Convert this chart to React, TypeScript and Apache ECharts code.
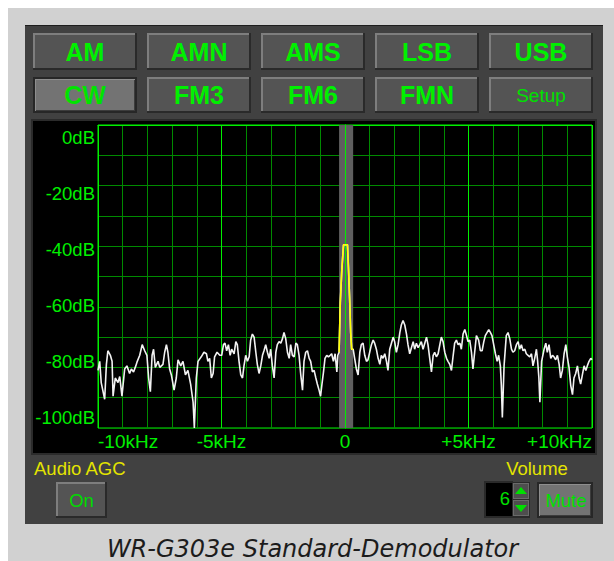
import React, { useEffect, useRef } from 'react';
import * as echarts from 'echarts';

const modeRow1 = ['AM', 'AMN', 'AMS', 'LSB', 'USB'];
const modeRow2 = ['CW', 'FM3', 'FM6', 'FMN', 'Setup'];
const selectedMode = 'CW';
const passbandKHz = [-0.24, 0.33];
const volumeValue = '6';
const captionText = 'WR-G303e Standard-Demodulator';

const freqKHz = [
  -10.0, -9.93, -9.87, -9.73, -9.66, -9.6, -9.5, -9.43, -9.39, -9.3, -9.19, -9.12, -9.03, -8.92, -8.83,
  -8.72, -8.65, -8.56, -8.47, -8.41, -8.31, -8.21, -8.11, -8.02, -7.95, -7.88, -7.81, -7.75, -7.68, -7.57,
  -7.5, -7.37, -7.3, -7.23, -7.17, -7.1, -7.03, -6.92, -6.83, -6.76, -6.65, -6.56, -6.46, -6.36, -6.25,
  -6.15, -6.1, -6.02, -5.95, -5.82, -5.71, -5.61, -5.55, -5.48, -5.41, -5.34, -5.28, -5.18, -5.07,
  -4.99, -4.92, -4.86, -4.79, -4.72, -4.65, -4.59, -4.49, -4.42, -4.36, -4.29, -4.22, -4.15, -4.09, -4.02,
  -3.95, -3.88, -3.82, -3.75, -3.68, -3.61, -3.55, -3.48, -3.41, -3.34, -3.28, -3.21, -3.14, -3.07, -3.01,
  -2.94, -2.87, -2.8, -2.74, -2.67, -2.6, -2.53, -2.47, -2.4, -2.33, -2.26, -2.2, -2.13, -2.06, -1.99,
  -1.93, -1.86, -1.79, -1.72, -1.66, -1.59, -1.52, -1.45, -1.39, -1.32, -1.25, -1.18, -1.12, -1.05, -0.99,
  -0.94, -0.87, -0.81, -0.74, -0.67, -0.6, -0.54, -0.47, -0.4, -0.33, -0.29,
  -0.24, -0.22, -0.19, -0.13, -0.06, 0.1, 0.14, 0.19, 0.23, 0.27, 0.33,
  0.39, 0.46, 0.53, 0.6, 0.66, 0.73, 0.8, 0.87, 0.93, 1.0, 1.07, 1.14, 1.2, 1.27, 1.34,
  1.41, 1.47, 1.54, 1.61, 1.68, 1.74, 1.81, 1.88, 1.95, 2.01, 2.08, 2.15, 2.22, 2.28, 2.35,
  2.42, 2.49, 2.55, 2.62, 2.69, 2.76, 2.82, 2.89, 2.96, 3.03, 3.09, 3.16, 3.23, 3.3, 3.36,
  3.43, 3.5, 3.57, 3.63, 3.7, 3.77, 3.84, 3.9, 3.97, 4.04, 4.11, 4.17, 4.24, 4.31, 4.38,
  4.44, 4.51, 4.58, 4.65, 4.71, 4.78, 4.85, 4.92, 4.98, 5.05,
  5.12, 5.18, 5.25, 5.32, 5.41, 5.48, 5.55, 5.62, 5.68, 5.75, 5.82, 5.89, 5.95, 6.02, 6.09,
  6.16, 6.22, 6.29, 6.33, 6.37, 6.44, 6.53, 6.6, 6.67, 6.74, 6.8, 6.87, 6.94, 7.01, 7.07,
  7.14, 7.21, 7.28, 7.34, 7.41, 7.48, 7.55, 7.61, 7.68, 7.75, 7.8, 7.85, 7.89, 7.96, 8.06,
  8.13, 8.19, 8.26, 8.33, 8.4, 8.46, 8.53, 8.6, 8.67, 8.73, 8.8, 8.87, 8.94, 9.0, 9.07,
  9.14, 9.21, 9.27, 9.34, 9.41, 9.48, 9.54, 9.61, 9.68, 9.75, 9.81, 9.88, 9.95, 10.0,
];

const levelDb = [
  -81, -78, -85, -90.5, -79, -74.5, -76, -78, -89.5, -83.5, -85, -83, -89.5, -80.5, -79.5,
  -82, -80.5, -81.5, -79.5, -78, -76, -72.5, -74.5, -76, -83.5, -88, -76, -74, -80, -78,
  -80, -79, -75, -72.5, -75, -80.5, -82.5, -87.5, -83.5, -77.5, -79.5, -78, -82.5, -81, -85.5,
  -91.5, -100, -83.5, -78, -76.5, -75, -75.5, -78, -77, -83.5, -82, -76.5, -75, -76,
  -76, -72.5, -72, -74.5, -72.5, -76, -74, -75.5, -71.5, -72.5, -78, -82.5, -83.5, -79.5, -76,
  -78, -76.5, -71, -69, -70, -75, -79, -82, -79.5, -76, -74.5, -72.5, -75, -77, -74,
  -79.5, -83.5, -75, -72.5, -71.5, -72, -70.5, -68.5, -70.5, -75, -77, -72.5, -76, -76.5, -72,
  -72.5, -76, -82.5, -87.5, -78, -75, -74.5, -77, -78, -81.5, -81, -83.5, -85.5, -87.5, -89.5,
  -86, -81.5, -77, -76, -76.5, -76, -75.5, -78, -75.5, -81.5, -76,
  -75, -68.5, -58.5, -48, -39.5, -39.5, -47, -58, -68.5, -74, -74,
  -77, -80.5, -82.5, -75, -72.5, -72, -76, -78, -77.5, -75, -72.5, -71, -72, -74, -77,
  -79, -76, -77, -75.5, -78, -81, -74, -72, -70, -71.5, -75, -72.5, -68.5, -66, -64.5,
  -66, -69, -72.5, -75.5, -73.5, -71.5, -74, -72, -73.5, -72.5, -71.5, -74, -72, -70, -72.5,
  -77, -81.5, -76, -75, -76.5, -75.5, -72.5, -70, -71.5, -75, -77, -78, -79, -81, -76,
  -72, -71, -72.5, -72, -74, -69, -67.5, -69.5, -71.5, -71,
  -75, -80.5, -75, -69.5, -71, -74.5, -74.5, -71.5, -69.5, -68.5, -67.5, -68.5, -69.5, -72.5, -75.5,
  -78, -76, -79.5, -86, -96.5, -79.5, -69.5, -68.5, -70.5, -74, -75, -74.5, -72.5, -71.5, -74,
  -72.5, -74.5, -74, -75.5, -76, -76.5, -75.5, -79.5, -77, -74, -78, -83.5, -91.5, -78, -74,
  -72, -75, -72.5, -77, -76, -76.5, -77.5, -76, -79, -83.5, -81, -75.5, -72.5, -76.5, -80,
  -86, -89, -83.5, -82, -79.5, -83.5, -85.5, -82.5, -79.5, -81, -79.5, -78, -77, -77.5,
];

const GREEN = '#00f000';
const DIM_GREEN = '#008a00';
const SANS = '"Liberation Sans", Arial, sans-serif';
const BTN_FONT = 'bold 25px ' + SANS;
const SMALL_FONT = '18.5px ' + SANS;

function rect(x: number, y: number, w: number, h: number, fill: string) {
  return { type: 'rect', z: -1, shape: { x, y, width: w, height: h }, style: { fill } };
}

function text(t: string, x: number, y: number, fill: string, font: string, align = 'center') {
  return {
    type: 'text', z: -1,
    style: { text: t, x, y, fill, font, textAlign: align, align, textVerticalAlign: 'middle', verticalAlign: 'middle' },
  };
}

function button(x: number, y: number, w: number, h: number, selected: boolean) {
  if (selected) {
    return [
      rect(x, y, w, h, '#272727'),
      rect(x + 2, y + 2, w - 4, h - 4, '#8e8e8e'),
      rect(x + 3, y + 3, w - 5, h - 5, '#3c3c3c'),
      rect(x + 3, y + 3, w - 6, h - 6, '#737373'),
    ];
  }
  return [
    rect(x, y, w, h, '#2a2a2a'),
    rect(x, y, w - 2, h - 2, '#7e7e7e'),
    rect(x + 2, y + 2, w - 4, h - 4, '#545454'),
  ];
}

export default function App() {
  const ref = useRef<HTMLDivElement>(null);
  useEffect(() => {
    if (!ref.current) return;
    const chart = echarts.init(ref.current, undefined, { renderer: 'svg' });
    const allData = freqKHz.map((f, i) => [f, levelDb[i]]);
    const bandData = allData.filter((p) => p[0] >= passbandKHz[0] - 0.001 && p[0] <= passbandKHz[1] + 0.001);

    const g: any[] = [];
    g.push(rect(0, 0, 614, 561, '#ffffff'));
    g.push(rect(8, 8, 606, 553, '#d1d1d1'));
    g.push(rect(25, 25, 578, 499, '#414141'));
    g.push(rect(25, 25, 578, 1, '#1e1e1e'));
    g.push(rect(31, 119, 566, 336, '#2b2b2b'));
    g.push(rect(33, 121, 562, 332, '#000000'));

    modeRow1.forEach((m, i) => {
      const x = 33 + i * 114;
      g.push(...button(x, 33, 104, 37, m === selectedMode));
      g.push(text(m, x + 52, 51.5, GREEN, BTN_FONT));
    });
    modeRow2.forEach((m, i) => {
      const x = 33 + i * 114;
      g.push(...button(x, 77, 104, 36, m === selectedMode));
      if (m === 'Setup') g.push(text(m, x + 52, 95, '#00e000', '19px ' + SANS));
      else g.push(text(m, x + 52, 94.5, m === selectedMode ? '#00e400' : GREEN, BTN_FONT));
    });

    g.push(text('Audio AGC', 34, 468, '#e4e400', SMALL_FONT, 'left'));
    g.push(...button(56, 482, 51, 36, false));
    g.push(text('On', 81.5, 500, '#00dc00', SMALL_FONT));

    g.push(text('Volume', 537, 468, '#e4e400', SMALL_FONT));
    g.push(rect(484, 481, 29, 37, '#2a2a2a'));
    g.push(rect(486, 483, 26, 33, '#000000'));
    g.push(text(volumeValue, 510, 498, '#00e000', SMALL_FONT, 'right'));
    g.push(rect(512, 482, 18, 36, '#2a2a2a'));
    g.push(rect(513, 483, 16, 16, '#6a6a6a'));
    g.push(rect(513, 500, 16, 16, '#6a6a6a'));
    g.push(rect(514, 484, 14, 14, '#4e4e4e'));
    g.push(rect(514, 501, 14, 14, '#4e4e4e'));
    g.push({ type: 'polygon', z: -1, shape: { points: [[515, 494], [521, 487], [527, 494]] }, style: { fill: '#00e000' } });
    g.push({ type: 'polygon', z: -1, shape: { points: [[515, 505], [521, 512], [527, 505]] }, style: { fill: '#00e000' } });
    g.push(...button(537, 482, 56, 36, true));
    g.push(text('Mute', 566, 500, '#00e000', SMALL_FONT));

    g.push(text(captionText, 312.5, 549, '#1c1c1c', 'italic 24px "DejaVu Sans", Verdana, sans-serif'));

    chart.setOption({
      animation: false,
      graphic: { elements: g },
      grid: [
        { left: 98, top: 125, width: 494, height: 303, show: true, borderColor: GREEN, borderWidth: 1, backgroundColor: 'transparent' },
        { left: 98, top: 137, width: 10, height: 280, show: false },
      ],
      xAxis: [
        {
          type: 'value', gridIndex: 0, min: -10, max: 10, interval: 5,
          axisLine: { show: true, lineStyle: { color: GREEN, width: 1 } },
          axisTick: { show: false },
          minorTick: { show: false, splitNumber: 5 },
          splitLine: { show: true, lineStyle: { color: GREEN, width: 1 } },
          minorSplitLine: { show: true, lineStyle: { color: DIM_GREEN, width: 1 } },
          axisLabel: {
            color: GREEN, fontSize: 19, fontFamily: SANS, margin: 4,
            alignMinLabel: 'left', alignMaxLabel: 'right',
            formatter: (v: number) => (v === 0 ? '0' : (v > 0 ? '+' : '') + v + 'kHz'),
          },
        },
        { type: 'value', gridIndex: 1, show: false, min: 0, max: 1 },
      ],
      yAxis: [
        {
          type: 'value', gridIndex: 0, min: -100, max: 0, interval: 20,
          axisLine: { show: true, lineStyle: { color: GREEN } },
          axisTick: { show: false },
          axisLabel: { show: false },
          minorTick: { show: false, splitNumber: 2 },
          splitLine: { show: true, lineStyle: { color: DIM_GREEN, width: 1 } },
          minorSplitLine: { show: true, lineStyle: { color: DIM_GREEN, width: 1 } },
        },
        {
          type: 'value', gridIndex: 1, min: -100, max: 0, interval: 20,
          axisLine: { show: false }, axisTick: { show: false }, splitLine: { show: false },
          axisLabel: { color: GREEN, fontSize: 18.5, fontFamily: SANS, margin: 3, formatter: (v: number) => v + 'dB' },
        },
      ],
      series: [
        {
          type: 'line', xAxisIndex: 0, yAxisIndex: 0, z: 6,
          data: allData, showSymbol: false, symbol: 'none',
          lineStyle: { color: '#f2f2f2', width: 1.6 },
          markArea: {
            silent: true,
            itemStyle: { color: '#5f5f5f', opacity: 1 },
            data: [[{ xAxis: passbandKHz[0] }, { xAxis: passbandKHz[1] }]],
          },
          markLine: {
            silent: true, symbol: 'none', label: { show: false },
            lineStyle: { color: GREEN, type: 'solid', width: 1 },
            data: [{ xAxis: 0 }],
          },
        },
        {
          type: 'line', xAxisIndex: 0, yAxisIndex: 0, z: 7,
          data: bandData, showSymbol: false, symbol: 'none',
          lineStyle: { color: '#ffff00', width: 1.6 },
        },
      ],
    });
    return () => chart.dispose();
  }, []);
  return <div ref={ref} style={{ position: 'absolute', left: 0, top: 0, width: 614, height: 561 }} />;
}
